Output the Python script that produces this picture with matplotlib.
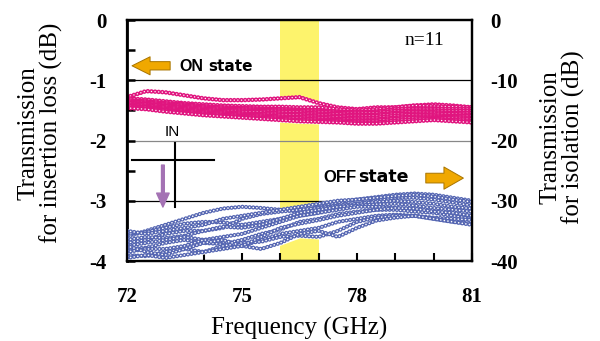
import matplotlib
matplotlib.use('Agg')
import matplotlib.pyplot as plt
import numpy as np

plt.rcParams['lines.scale_dashes'] = False

# frequency grid (GHz)
freq = [72.0, 72.5, 73.0, 73.5, 74.0, 74.5, 75.0, 75.5, 76.0, 76.5,
        77.0, 77.5, 78.0, 78.5, 79.0, 79.5, 80.0, 80.5, 81.0]

# ON state, insertion loss (dB), left axis
on_curves = [
    [-1.28, -1.18, -1.20, -1.25, -1.30, -1.33, -1.33, -1.32, -1.30, -1.28, -1.38, -1.45, -1.48, -1.45, -1.45, -1.42, -1.40, -1.42, -1.45],
    [-1.30, -1.32, -1.35, -1.38, -1.40, -1.42, -1.43, -1.44, -1.44, -1.45, -1.45, -1.48, -1.50, -1.48, -1.45, -1.42, -1.43, -1.44, -1.45],
    [-1.33, -1.35, -1.38, -1.40, -1.43, -1.45, -1.46, -1.47, -1.48, -1.49, -1.50, -1.52, -1.53, -1.52, -1.48, -1.47, -1.47, -1.48, -1.48],
    [-1.35, -1.37, -1.40, -1.42, -1.45, -1.47, -1.48, -1.49, -1.50, -1.51, -1.52, -1.54, -1.55, -1.54, -1.51, -1.50, -1.50, -1.51, -1.51],
    [-1.37, -1.39, -1.42, -1.44, -1.47, -1.49, -1.50, -1.51, -1.52, -1.53, -1.55, -1.56, -1.58, -1.57, -1.54, -1.52, -1.53, -1.54, -1.54],
    [-1.38, -1.40, -1.43, -1.46, -1.49, -1.51, -1.52, -1.53, -1.55, -1.56, -1.57, -1.59, -1.60, -1.59, -1.56, -1.55, -1.55, -1.56, -1.57],
    [-1.40, -1.42, -1.45, -1.48, -1.51, -1.53, -1.55, -1.56, -1.57, -1.58, -1.60, -1.61, -1.63, -1.62, -1.59, -1.57, -1.58, -1.59, -1.59],
    [-1.42, -1.44, -1.47, -1.50, -1.53, -1.55, -1.57, -1.58, -1.60, -1.61, -1.62, -1.64, -1.65, -1.65, -1.62, -1.60, -1.60, -1.61, -1.62],
    [-1.43, -1.45, -1.49, -1.52, -1.55, -1.57, -1.59, -1.60, -1.62, -1.63, -1.65, -1.66, -1.68, -1.67, -1.64, -1.62, -1.62, -1.63, -1.64],
    [-1.45, -1.47, -1.50, -1.54, -1.57, -1.59, -1.61, -1.62, -1.64, -1.66, -1.67, -1.68, -1.70, -1.70, -1.67, -1.65, -1.64, -1.66, -1.67],
    [-1.46, -1.48, -1.52, -1.55, -1.58, -1.60, -1.62, -1.64, -1.66, -1.68, -1.69, -1.70, -1.72, -1.72, -1.70, -1.68, -1.66, -1.68, -1.70],
]

# OFF state, isolation (dB), right axis
off_curves = [
    [-36.0, -35.0, -34.0, -33.0, -32.0, -31.3, -31.0, -31.2, -31.5, -31.8, -31.0, -30.3, -29.8, -29.4, -29.0, -28.8, -29.0, -29.5, -30.0],
    [-35.5, -35.2, -34.5, -33.8, -33.5, -33.6, -34.0, -33.5, -33.0, -32.5, -32.0, -31.0, -30.5, -30.0, -29.5, -29.5, -29.8, -30.3, -30.8],
    [-37.0, -36.5, -35.5, -35.0, -35.0, -34.5, -33.0, -32.2, -31.8, -31.5, -31.2, -30.8, -30.5, -30.2, -30.0, -30.2, -30.5, -31.0, -31.3],
    [-36.5, -36.0, -36.2, -35.8, -35.0, -34.3, -34.5, -34.0, -33.0, -32.0, -31.5, -31.0, -30.8, -30.6, -30.5, -30.8, -31.2, -31.5, -31.8],
    [-37.5, -37.0, -36.5, -36.0, -36.5, -36.0, -35.5, -34.5, -33.5, -32.5, -32.0, -31.5, -31.0, -31.0, -31.2, -31.5, -31.8, -32.2, -32.5],
    [-38.0, -37.8, -37.0, -36.5, -37.0, -37.2, -36.5, -35.5, -34.8, -33.5, -33.0, -32.2, -31.8, -31.5, -31.5, -31.8, -32.0, -32.5, -33.0],
    [-38.5, -38.0, -38.0, -37.5, -36.5, -36.8, -37.5, -36.5, -35.5, -35.0, -34.5, -33.5, -33.0, -32.5, -32.3, -32.5, -32.8, -33.0, -33.2],
    [-39.0, -39.2, -38.5, -38.0, -38.5, -37.5, -37.0, -36.8, -36.0, -35.8, -36.0, -35.0, -33.5, -32.8, -32.5, -32.5, -33.0, -33.5, -33.8],
    [-37.5, -38.5, -39.0, -38.0, -37.0, -36.5, -37.5, -38.0, -37.0, -35.5, -35.0, -36.0, -34.5, -33.3, -32.8, -32.5, -33.0, -33.5, -34.0],
    [-39.5, -39.0, -39.5, -39.0, -38.5, -38.0, -37.5, -36.0, -34.5, -33.8, -33.2, -32.5, -32.0, -31.5, -31.2, -31.3, -31.8, -32.0, -32.5],
    [-35.0, -35.5, -35.0, -34.5, -34.0, -33.0, -32.5, -32.0, -31.5, -31.0, -30.5, -30.0, -29.8, -29.5, -29.2, -29.0, -29.3, -29.8, -30.2],
]

band = [76.0, 77.0]
grid_vals = [-1, -2, -3]
grid_cols = ['black', '#888888', 'black']
xtick_vals = list(range(72, 82))
xtick_lbls = ['72', '', '', '75', '', '', '78', '', '', '81']
ytick_left = [0, -1, -2, -3, -4]
ytick_right = [0, -10, -20, -30, -40]

ON_COL = '#e0157f'
OFF_COL = '#5566b2'

serif = 'Liberation Serif'
sans = 'Liberation Sans'
wide = 'DejaVu Sans'

fig = plt.figure(figsize=(6, 3.41), dpi=100)
ax = fig.add_axes([0.2117, 0.2346, 0.575, 0.7067])
ax2 = ax.twinx()

ax.set_xlim(72, 81)
ax.set_ylim(-4, 0)
ax2.set_ylim(-40, 0)

# yellow band behind everything
ax.axvspan(band[0], band[1], color='#fdf36c', zorder=0.5, lw=0)

on_arr = np.array(on_curves)
off_arr = np.array(off_curves)
ax.fill_between(freq, on_arr.min(axis=0), on_arr.max(axis=0), color='white', zorder=1, lw=3)
ax2.fill_between(freq, off_arr.min(axis=0), off_arr.max(axis=0), color='white', zorder=1, lw=3)

for g, c in zip(grid_vals, grid_cols):
    ax.axhline(g, color=c, lw=0.9, zorder=1.5)

dots = (0, (0.01, 2.6))
for cv in on_curves:
    ax.plot(freq, cv, color=ON_COL, lw=3.3, ls=dots, dash_capstyle='round', zorder=2)
    ax.plot(freq, cv, color='white', lw=1.1, ls=dots, dash_capstyle='round', zorder=2)
for cv in off_curves:
    ax2.plot(freq, cv, color=OFF_COL, lw=3.1, ls=dots, dash_capstyle='round', zorder=2)
    ax2.plot(freq, cv, color='white', lw=1.2, ls=dots, dash_capstyle='round', zorder=2)

# ticks
ax.set_xticks(xtick_vals)
ax.set_xticklabels(xtick_lbls)
ax.set_yticks(ytick_left)
ax.set_yticklabels([str(v) for v in ytick_left])
ax.set_yticks([-0.5, -1.5, -2.5, -3.5], minor=True)
ax2.set_yticks(ytick_right)
ax2.set_yticklabels([str(v) for v in ytick_right])

ax.tick_params(axis='x', direction='in', length=6, width=1.5, pad=19)
ax.tick_params(axis='y', which='both', direction='in', length=6, width=1.8, pad=15)
ax2.tick_params(axis='y', direction='in', length=0, pad=13)
for lbl in ax.get_xticklabels() + ax.get_yticklabels() + ax2.get_yticklabels():
    lbl.set_fontfamily(serif)
    lbl.set_fontweight('bold')
    lbl.set_fontsize(15)

for a in (ax, ax2):
    for s in a.spines.values():
        s.set_linewidth(1.6)
        s.set_color('black')
ax.spines['left'].set_linewidth(2.0)

ax.set_xlabel('Frequency (GHz)', fontfamily=serif, fontsize=18, labelpad=7)
ax.set_ylabel('Transmission\nfor insertion loss (dB)', fontfamily=serif, fontsize=18,
              linespacing=1.0)
ax.yaxis.set_label_coords(-0.186, 0.53)
ax2.set_ylabel('Transmission\nfor isolation (dB)', fontfamily=serif, fontsize=18,
               linespacing=1.0)
ax2.yaxis.set_label_coords(1.197, 0.515)

ax2.set_zorder(ax.get_zorder() + 1)
ax2.patch.set_visible(False)

# annotations
ax.text(0.861, 0.917, 'n=11', transform=ax.transAxes, fontfamily=serif, fontsize=14,
        ha='center', va='center', zorder=5)

arrow_kw = dict(arrowstyle='simple,head_width=13,head_length=13,tail_width=6',
                mutation_scale=1, fc='#f0a800', ec='#a87400', lw=0.7,
                shrinkA=0, shrinkB=0)
ax.annotate('', xy=(0.0145, 0.81), xytext=(0.125, 0.81), xycoords='axes fraction',
            arrowprops=arrow_kw, zorder=5)
ax.text(0.153, 0.79, 'ON', transform=ax.transAxes, fontfamily=sans, fontweight='bold',
        fontsize=11.5, va='baseline', ha='left', zorder=5)
ax.text(0.235, 0.79, 'state', transform=ax.transAxes, fontfamily=wide, fontweight='bold',
        fontsize=11, va='baseline', ha='left', zorder=5)

arrow_kw2 = dict(arrow_kw)
arrow_kw2['arrowstyle'] = 'simple,head_width=16,head_length=14,tail_width=7'
ax.annotate('', xy=(0.975, 0.344), xytext=(0.866, 0.344), xycoords='axes fraction',
            arrowprops=arrow_kw2, zorder=5)
ax.text(0.568, 0.328, 'OFF', transform=ax.transAxes, fontfamily=sans, fontweight='bold',
        fontsize=12, va='baseline', ha='left', zorder=5)
ax.text(0.670, 0.328, 'state', transform=ax.transAxes, fontfamily=wide, fontweight='bold',
        fontsize=12.5, va='baseline', ha='left', zorder=5)

# IN inset
ax.plot([0.0145, 0.252], [0.419, 0.419], color='black', lw=1.5, transform=ax.transAxes, zorder=5)
ax.plot([0.139, 0.139], [0.49, 0.224], color='black', lw=1.5, transform=ax.transAxes, zorder=5)
ax.text(0.13, 0.535, 'IN', transform=ax.transAxes, fontfamily=sans, fontsize=11,
        ha='center', va='center', zorder=5)
ax.annotate('', xy=(0.104, 0.224), xytext=(0.104, 0.398), xycoords='axes fraction',
            arrowprops=dict(arrowstyle='simple,head_width=9,head_length=10,tail_width=2',
                            mutation_scale=1, fc='#a472b4', ec='#a472b4',
                            shrinkA=0, shrinkB=0), zorder=5)

fig.savefig('out.png', dpi=100)
